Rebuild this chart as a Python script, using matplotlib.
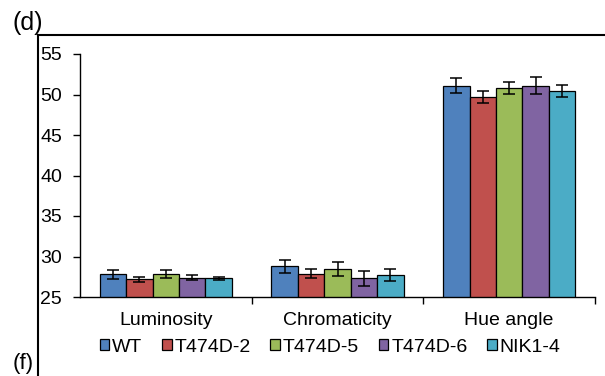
import numpy as np
import matplotlib.pyplot as plt
from matplotlib.lines import Line2D

plt.rcParams['font.family'] = ['Liberation Sans', 'DejaVu Sans']

categories = ['Luminosity', 'Chromaticity', 'Hue angle']
lines = ['WT', 'T474D-2', 'T474D-5', 'T474D-6', 'NIK1-4']
colors = ['#4F81BD', '#C0504D', '#9BBB59', '#8064A2', '#4BACC6']

# means per line, in category order
wt = [27.8, 28.8, 51.1]
t474d_2 = [27.2, 27.9, 49.7]
t474d_5 = [27.8, 28.5, 50.8]
t474d_6 = [27.4, 27.3, 51.1]
nik1_4 = [27.3, 27.7, 50.4]

# error bars (+/-)
wt_err = [0.55, 0.8, 0.9]
t474d_2_err = [0.3, 0.6, 0.7]
t474d_5_err = [0.5, 0.85, 0.75]
t474d_6_err = [0.3, 0.9, 1.0]
nik1_4_err = [0.2, 0.7, 0.75]

means = [wt, t474d_2, t474d_5, t474d_6, nik1_4]
errs = [wt_err, t474d_2_err, t474d_5_err, t474d_6_err, nik1_4_err]

fig = plt.figure(figsize=(6.05, 3.76), dpi=100)
ax = fig.add_axes([80 / 605, 1 - 297 / 376, 515 / 605, 243 / 376])

x = np.arange(len(categories))
w = 0.154
for i in range(len(lines)):
    pos = x + (i - 2) * w
    ax.bar(pos, means[i], w, bottom=0, color=colors[i], edgecolor='black',
           linewidth=0.9, label=lines[i], zorder=2)
    ax.errorbar(pos, means[i], yerr=errs[i], fmt='none', ecolor='black',
                elinewidth=1.1, capsize=4, capthick=1.1, zorder=3)

ax.set_ylim(25, 55)
ax.set_xlim(-0.5, 2.5)
ax.set_yticks([25, 30, 35, 40, 45, 50, 55])
ax.set_xticks(x)
ax.set_xticklabels(categories)
ax.set_xticks([0.5, 1.5, 2.5], minor=True)
ax.tick_params(axis='x', which='major', length=0, labelsize=14, pad=11)
ax.tick_params(axis='x', which='minor', length=5, width=1, direction='out')
ax.tick_params(axis='y', length=5, width=1, labelsize=14, pad=8)
ax.spines['top'].set_visible(False)
ax.spines['right'].set_visible(False)
ax.spines['left'].set_linewidth(1)
ax.spines['bottom'].set_linewidth(1)

ax.legend(loc='center', bbox_to_anchor=(330 / 605, 1 - 347 / 376),
          bbox_transform=fig.transFigure, ncol=5, frameon=False, fontsize=14,
          handlelength=0.5, handleheight=0.5, handletextpad=0.15,
          columnspacing=1.0, borderpad=0)

# panel frame and labels
fig.add_artist(Line2D([38 / 605, 1], [1 - 35 / 376, 1 - 35 / 376],
                      color='black', linewidth=1.5))
fig.add_artist(Line2D([38 / 605, 38 / 605], [0, 1 - 35 / 376],
                      color='black', linewidth=1.5))
fig.text(13 / 605, 1 - 30 / 376, '(d)', fontsize=18, va='baseline')
fig.text(13 / 605, 1 - 374 / 376, '(f)', fontsize=16, va='bottom')

fig.savefig('out.png', dpi=100)
